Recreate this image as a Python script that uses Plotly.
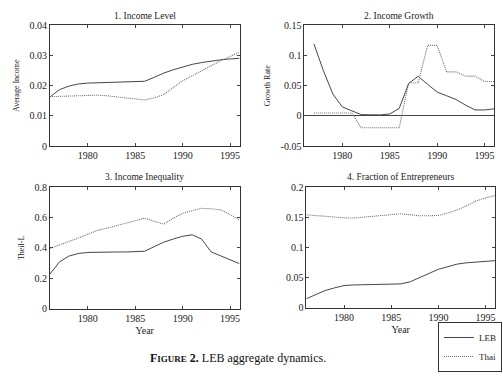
import plotly.graph_objects as go

years = list(range(1976, 1997))
years_g = list(range(1977, 1997))

income_leb = [0.0163, 0.0187, 0.0199, 0.0206, 0.0209, 0.0210, 0.0211, 0.0212, 0.0212, 0.0213, 0.0215,
              0.0228, 0.0242, 0.0253, 0.0263, 0.0271, 0.0277, 0.0282, 0.0286, 0.0289, 0.0291]
income_thai = [0.0164, 0.0165, 0.0165, 0.0166, 0.0168, 0.0169, 0.0167, 0.0164, 0.0160, 0.0157, 0.0153,
               0.0160, 0.0171, 0.0194, 0.0217, 0.0233, 0.0250, 0.0267, 0.0283, 0.0297, 0.0311]

growth_leb = [0.1196, 0.0753, 0.0364, 0.015, 0.0085, 0.0023, 0.0020, 0.0018, 0.0034, 0.0125,
              0.054, 0.0657, 0.0524, 0.0396, 0.0335, 0.0273, 0.018, 0.010, 0.010, 0.0118]
growth_thai = [0.005, 0.005, 0.005, 0.005, 0.005, -0.0196, -0.0196, -0.0196, -0.0196, -0.0196,
               0.055, 0.055, 0.117, 0.117, 0.073, 0.073, 0.066, 0.066, 0.057, 0.057]

theil_leb = [0.227, 0.307, 0.346, 0.363, 0.370, 0.372, 0.373, 0.373, 0.373, 0.374, 0.378,
             0.408, 0.437, 0.458, 0.476, 0.486, 0.458, 0.374, 0.349, 0.323, 0.296]
theil_thai = [0.396, 0.418, 0.440, 0.465, 0.490, 0.515, 0.530, 0.547, 0.563, 0.579, 0.595,
              0.575, 0.556, 0.595, 0.627, 0.645, 0.660, 0.657, 0.650, 0.620, 0.584]

entre_leb = [0.015, 0.022, 0.0286, 0.033, 0.0368, 0.0378, 0.0383, 0.0386, 0.0389, 0.0391, 0.0395,
             0.043, 0.050, 0.0568, 0.0638, 0.068, 0.0724, 0.0745, 0.0757, 0.077, 0.078]
entre_thai = [0.154, 0.1525, 0.151, 0.1498, 0.149, 0.1486, 0.150, 0.1515, 0.153, 0.1545, 0.1557,
              0.154, 0.1524, 0.1525, 0.153, 0.157, 0.162, 0.169, 0.177, 0.182, 0.186]

titles = ["1. Income Level", "2. Income Growth", "3. Income Inequality", "4. Fraction of Entrepreneurs"]
ytitles = ["Average Income", "Growth Rate", "Theil-L", ""]
xtick_vals = [1980, 1985, 1990, 1995]
yticks = [
    ([0, 0.01, 0.02, 0.03, 0.04], ["0", "0.01", "0.02", "0.03", "0.04"], [0, 0.04]),
    ([-0.05, 0, 0.05, 0.1, 0.15], ["-0.05", "0", "0.05", "0.1", "0.15"], [-0.05, 0.15]),
    ([0, 0.2, 0.4, 0.6, 0.8], ["0", "0.2", "0.4", "0.6", "0.8"], [0, 0.8]),
    ([0, 0.05, 0.1, 0.15, 0.2], ["0", "0.05", "0.1", "0.15", "0.2"], [0, 0.2]),
]

W, H = 503, 377
def px_x(v): return v / W
def px_y(v): return 1 - v / H

panels = [
    (50, 240, 21, 145),
    (305, 495, 21, 145),
    (50, 240, 187, 312),
    (307, 496, 187, 311),
]

LEB_COLOR = "#474747"
THAI_COLOR = "#6e6e6e"
FONT = "Liberation Serif"

fig = go.Figure()
series = [
    (years, income_leb, years, income_thai),
    (years_g, growth_leb, years_g, growth_thai),
    (years, theil_leb, years, theil_thai),
    (years, entre_leb, years, entre_thai),
]
for i, (xl, yl, xt, yt) in enumerate(series):
    sfx = "" if i == 0 else str(i + 1)
    fig.add_trace(go.Scatter(x=xl, y=yl, mode="lines", name="LEB",
                             line=dict(color=LEB_COLOR, width=1),
                             xaxis="x" + sfx, yaxis="y" + sfx, showlegend=(i == 0)))
    fig.add_trace(go.Scatter(x=xt, y=yt, mode="lines", name="Thai",
                             line=dict(color=THAI_COLOR, width=1.1, dash="1px,1px"),
                             xaxis="x" + sfx, yaxis="y" + sfx, showlegend=(i == 0)))

layout = dict(
    width=W, height=H, margin=dict(l=0, r=0, t=0, b=0),
    paper_bgcolor="white", plot_bgcolor="white",
    font=dict(family=FONT, size=10, color="#222"),
    showlegend=True,
    legend=dict(x=1, y=0, xanchor="right", yanchor="bottom",
                bordercolor="#333", borderwidth=1, bgcolor="white",
                font=dict(family=FONT, size=9, color="#222"),
                itemwidth=30, tracegroupgap=0),
)
annotations = []
for i, (l, r, t, b) in enumerate(panels):
    sfx = "" if i == 0 else str(i + 1)
    tv, tt, rng = yticks[i]
    layout["xaxis" + sfx] = dict(
        domain=[px_x(l), px_x(r)], range=[1976, 1996], anchor="y" + sfx,
        tickvals=xtick_vals, ticks="inside", ticklen=3, mirror="ticks",
        showline=True, linecolor="#333", linewidth=1, showgrid=False, zeroline=False,
        tickfont=dict(size=10), title=dict(text="Year" if i >= 2 else "", font=dict(size=10), standoff=4),
    )
    layout["yaxis" + sfx] = dict(
        domain=[px_y(b), px_y(t)], range=rng, anchor="x" + sfx,
        tickvals=tv, ticktext=tt, ticks="inside", ticklen=3, mirror="ticks",
        showline=True, linecolor="#333", linewidth=1, showgrid=False,
        zeroline=(i == 1), zerolinecolor="#444", zerolinewidth=1,
        tickfont=dict(size=10),
        title=dict(text=ytitles[i], font=dict(size=8), standoff=8),
    )
    annotations.append(dict(text=titles[i], x=(px_x(l) + px_x(r)) / 2, y=px_y(t - 3),
                            xref="paper", yref="paper", xanchor="center", yanchor="bottom",
                            showarrow=False, font=dict(size=9.5)))
annotations.append(dict(
    text="<b>F<span style='font-size:9px'>IGURE</span> 2.</b> LEB aggregate dynamics.",
    x=px_x(238), y=px_y(363), xref="paper", yref="paper", xanchor="center", yanchor="middle",
    showarrow=False, font=dict(size=12, color="#111")))
layout["annotations"] = annotations
fig.update_layout(**layout)
fig.write_html("out.html")
